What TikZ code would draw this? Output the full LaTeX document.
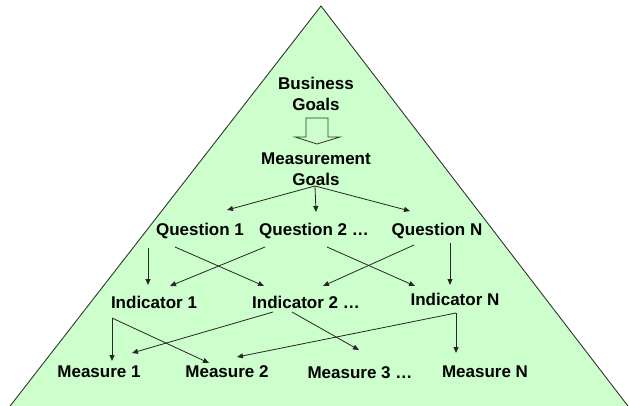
\documentclass[tikz,border=0pt]{standalone}
\usepackage{fontspec}
\setmainfont{Liberation Sans}
\usetikzlibrary{arrows.meta}
\definecolor{pyr}{HTML}{CCFFCC}
\definecolor{edge}{HTML}{333333}
\tikzset{
  lbl/.style={inner sep=0pt, font=\fontsize{17}{21}\selectfont\bfseries, align=center, text=black},
  arr/.style={draw=black!85, line width=0.8pt, -{Triangle[length=6pt,width=5pt]}},
  ln/.style={draw=black!85, line width=0.8pt},
}
\begin{document}
\begin{tikzpicture}[x=1pt,y=-1pt]
\useasboundingbox (0,0) rectangle (629,406);
\clip (0,0) rectangle (629,406);
\filldraw[fill=pyr, draw=edge, line width=0.9pt] (321,6) -- (7,410) -- (631,410) -- cycle;
% hollow arrow
\filldraw[fill=pyr, draw=edge, line width=0.8pt] (306,118) -- (328,118) -- (328,137) -- (340,137) -- (317,144) -- (295,137) -- (306,137) -- cycle;
% nodes
\node[lbl] (bg) at (316,93.5) {Business\\Goals};
\node[lbl] (mg) at (316,169) {Measurement\\Goals};
\node[lbl] (q1) at (200,231) {Question 1};
\node[lbl] (q2) at (314,231) {Question 2 \dots};
\node[lbl] (qn) at (437,231) {Question N};
\node[lbl] (i1) at (154,302) {Indicator 1};
\node[lbl] (i2) at (306,302) {Indicator 2 \dots};
\node[lbl] (in) at (455,299) {Indicator N};
\node[lbl] (m1) at (99,372) {Measure 1};
\node[lbl] (m2) at (227,372) {Measure 2};
\node[lbl] (m3) at (360,373) {Measure 3 \dots};
\node[lbl] (mn) at (485,372) {Measure N};
% connector points
\coordinate (mgo) at (315,186);
\coordinate (q1t) at (227,210);
\coordinate (q2t) at (316,212);
\coordinate (qnt) at (410,211);
\coordinate (q1a) at (148,248);
\coordinate (q1b) at (175,247);
\coordinate (q2a) at (265,247);
\coordinate (q2b) at (327,247);
\coordinate (qna) at (414,245);
\coordinate (qnb) at (450,243);
\coordinate (i1a) at (148,285);
\coordinate (i1b) at (170,286);
\coordinate (i2a) at (264,286);
\coordinate (i2b) at (323,286);
\coordinate (ina) at (415,286);
\coordinate (inb) at (450,285);
\coordinate (i1o) at (112,318);
\coordinate (i2o) at (273,312);
\coordinate (i2p) at (292,312);
\coordinate (ino) at (456,313);
\coordinate (m1a) at (112,361);
\coordinate (m1b) at (132,353);
\coordinate (m2a) at (209,363);
\coordinate (m2b) at (237,357);
\coordinate (m3a) at (359,350);
\coordinate (mna) at (456,353);
% connectors
\draw[arr] (mgo) -- (q1t);
\draw[arr] (mgo) -- (q2t);
\draw[arr] (mgo) -- (qnt);
\draw[arr] (q1a) -- (i1a);
\draw[arr] (q1b) -- (i2a);
\draw[arr] (q2a) -- (i1b);
\draw[arr] (q2b) -- (ina);
\draw[arr] (qna) -- (i2b);
\draw[arr] (qnb) -- (inb);
\draw[arr] (i1o) -- (m1a);
\draw[arr] (i1o) -- (m2a);
\draw[arr] (i2o) -- (m1b);
\draw[arr] (i2p) -- (m3a);
\draw[arr] (ino) -- (mna);
\draw[arr] (ino) -- (m2b);
\end{tikzpicture}
\end{document}
